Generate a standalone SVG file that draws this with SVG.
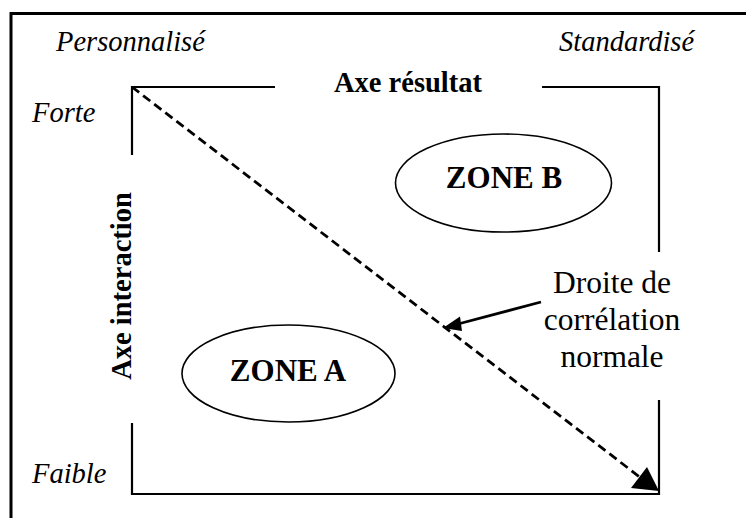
<svg xmlns="http://www.w3.org/2000/svg" width="746" height="518" viewBox="0 0 746 518">
<defs>
<style>
.frame{fill:none;stroke:#000;stroke-width:3}
.axis{fill:none;stroke:#000;stroke-width:2.2}
.zone{fill:#fff;stroke:#000;stroke-width:1.6}
.it{font-family:"Liberation Serif","Times New Roman",serif;font-style:italic;font-size:28.5px;fill:#000}
.bd{font-family:"Liberation Serif","Times New Roman",serif;font-weight:bold;font-size:28.5px;fill:#000}
.zt{font-family:"Liberation Serif","Times New Roman",serif;font-weight:bold;font-size:31px;fill:#000}
.rg{font-family:"Liberation Serif","Times New Roman",serif;font-size:31.5px;fill:#000}
</style>
</defs>
<rect width="746" height="518" fill="#fff"/>
<g id="frame">
<path class="frame" d="M11,518 V13.5 H746"/>
</g>
<g id="labels">
<text class="it" x="56" y="51">Personnalisé</text>
<text class="it" x="559" y="51">Standardisé</text>
<text class="it" x="32" y="122">Forte</text>
<text class="it" x="32" y="483">Faible</text>
</g>
<g id="axes">
<path class="axis" d="M132,155 V87 H275"/>
<path class="axis" d="M542,87 H659 V252"/>
<path class="axis" d="M132,423 V494 H659 V400"/>
<text class="bd" x="408" y="92" text-anchor="middle">Axe résultat</text>
<text class="bd" transform="translate(131,286) rotate(-90)" text-anchor="middle">Axe interaction</text>
</g>
<g id="zoneB">
<ellipse class="zone" cx="503.5" cy="183" rx="108" ry="49"/>
<text class="zt" x="504" y="188" text-anchor="middle">ZONE B</text>
</g>
<g id="zoneA">
<ellipse class="zone" cx="288.5" cy="373.5" rx="106.5" ry="48.5"/>
<text class="zt" x="288" y="381" text-anchor="middle">ZONE A</text>
</g>
<g id="droite-label">
<text class="rg" text-anchor="middle"><tspan x="612" y="293">Droite de</tspan><tspan x="612" y="330">corrélation</tspan><tspan x="612" y="367">normale</tspan></text>
</g>
<g id="connectors">
<line x1="132" y1="87" x2="641" y2="478" stroke="#000" stroke-width="2.8" stroke-dasharray="9,5"/>
<polygon points="659,491 631,488 647,467" fill="#000"/>
<line x1="541" y1="302" x2="458" y2="324" stroke="#000" stroke-width="2.8"/>
<polygon points="443,328 460,316.5 462,331" fill="#000"/>
</g>
</svg>
